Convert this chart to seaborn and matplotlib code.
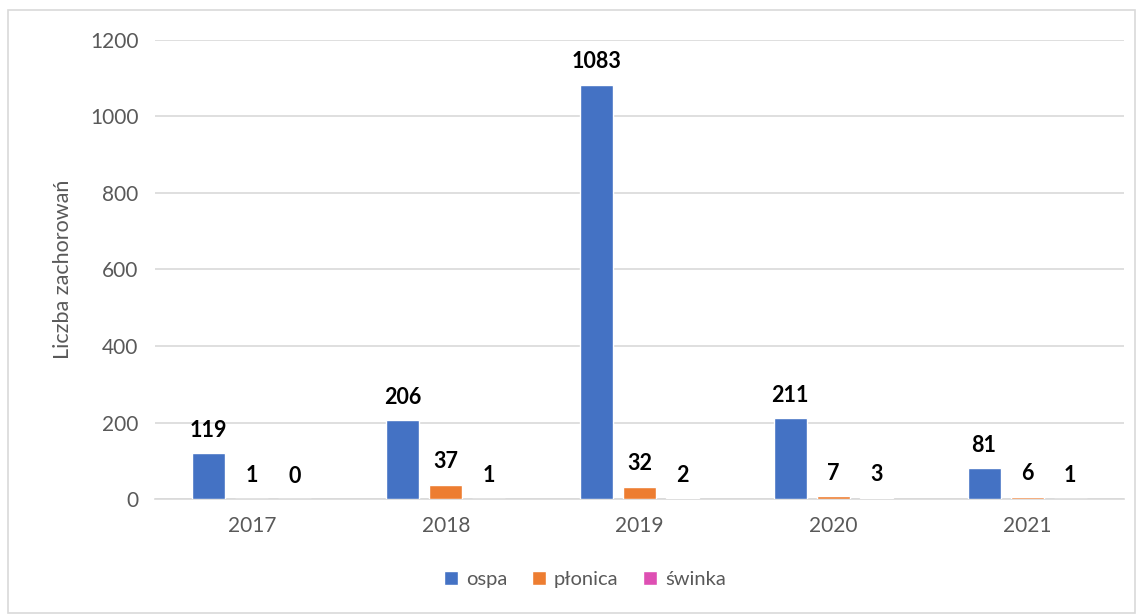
import pandas as pd
import seaborn as sns
import matplotlib.pyplot as plt
from matplotlib.patches import Rectangle

# data
years = ["2017", "2018", "2019", "2020", "2021"]
ospa = [119, 206, 1083, 211, 81]
plonica = [1, 37, 32, 7, 6]
swinka = [0, 1, 2, 3, 1]
series = ["ospa", "płonica", "świnka"]
colors = ["#4472C4", "#ED7D31", "#DE4FB3"]

df = pd.DataFrame({
    "rok": years * 3,
    "choroba": [s for s in series for _ in years],
    "liczba": ospa + plonica + swinka,
})

sns.set_style("white")
plt.rcParams["font.family"] = ["Lato", "DejaVu Sans"]

fig = plt.figure(figsize=(11.37, 6.15), dpi=100)
ax = fig.add_axes([0.1363, 0.1886, 0.8523, 0.7464])

sns.barplot(data=df, x="rok", y="liczba", hue="choroba", order=years,
            hue_order=series, palette=colors, width=0.666, gap=0.23,
            saturation=1, ax=ax, zorder=3)

for cont in ax.containers:
    ax.bar_label(cont, padding=9, fontsize=15.5, fontweight="bold", color="black")

ax.set_ylim(0, 1200)
ax.set_xlim(-0.5, 4.5)
ax.set_yticks(range(0, 1201, 200))
ax.yaxis.grid(True, color="#D9D9D9", linewidth=1.2, zorder=0)
ax.set_axisbelow(True)
for s in ["top", "right", "left"]:
    ax.spines[s].set_visible(False)
ax.spines["bottom"].set_color("#D9D9D9")
ax.spines["bottom"].set_linewidth(1.2)
ax.tick_params(axis="both", length=0, labelsize=15, labelcolor="#595959", pad=12)
ax.set_xlabel(None)
ax.set_ylabel("Liczba zachorowań", fontsize=15.5, color="#595959", labelpad=12)

handles, labels = ax.get_legend_handles_labels()
ax.get_legend().remove()
fig.legend(handles, labels, loc="center", bbox_to_anchor=(0.5145, 0.057), ncol=3,
           frameon=False, fontsize=14.5, handlelength=0.7, handleheight=0.7,
           handletextpad=0.4, columnspacing=1.2, labelcolor="#595959")

fig.patches.append(Rectangle((8 / 1137, 2 / 615), 1127 / 1137, 603 / 615,
                             transform=fig.transFigure, fill=False,
                             edgecolor="#D9D9D9", linewidth=1.2))

plt.savefig("out.png", dpi=100)
